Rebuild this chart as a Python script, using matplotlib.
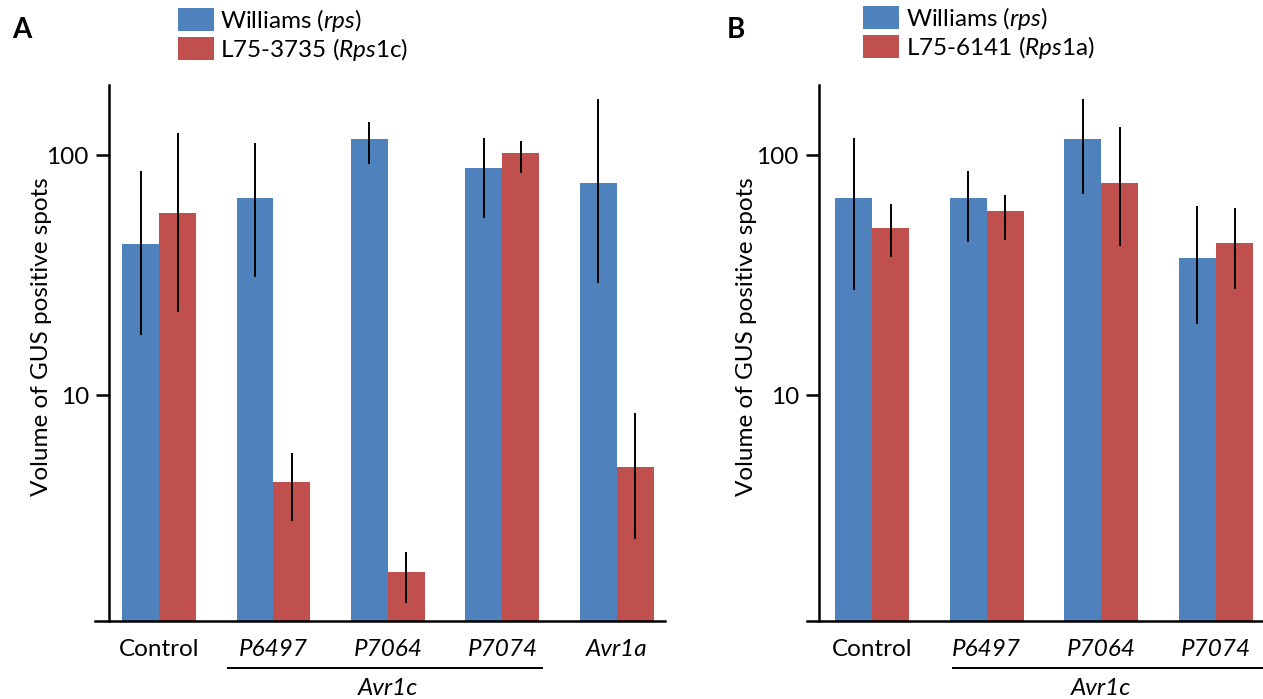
import matplotlib
matplotlib.use("Agg")
import matplotlib.pyplot as plt
import numpy as np

plt.rcParams['font.family'] = ['Lato', 'DejaVu Sans']
plt.rcParams['mathtext.fontset'] = 'custom'
plt.rcParams['mathtext.rm'] = 'Lato'
plt.rcParams['mathtext.it'] = 'Lato:italic'

# panel A data
cats_a = ['Control', 'P6497', 'P7064', 'P7074', 'Avr1a']
wil_a = [42.6, 66.2, 116.6, 88.3, 76.4]
wil_a_lo = [17.8, 31.0, 91.7, 54.6, 29.3]
wil_a_hi = [85.8, 112.2, 137.2, 117.7, 171.0]
l75_a = [57.4, 4.34, 1.83, 101.9, 5.01]
l75_a_lo = [22.2, 2.99, 1.36, 84.1, 2.51]
l75_a_hi = [123.5, 5.73, 2.22, 114.4, 8.41]

# panel B data
cats_b = ['Control', 'P6497', 'P7064', 'P7074']
wil_b = [66.2, 66.2, 116.6, 37.2]
wil_b_lo = [27.4, 43.4, 68.8, 19.8]
wil_b_hi = [117.7, 85.8, 171.0, 61.3]
l75_b = [49.6, 58.4, 76.4, 43.0]
l75_b_lo = [37.6, 44.3, 41.8, 27.6]
l75_b_hi = [62.5, 68.1, 130.8, 60.1]

blue = '#4F81BD'
red = '#C0504D'
w = 0.323
fs = 17.5


def panel(ax, cats, m1, lo1, hi1, m2, lo2, hi2, xlim, lab2, leg_xy, ext):
    x = np.arange(len(cats))
    m1, m2 = np.array(m1), np.array(m2)
    b1 = ax.bar(x - w / 2, m1, w, color=blue, log=True, label=r'Williams ($\mathit{rps}$)')
    b2 = ax.bar(x + w / 2, m2, w, color=red, log=True, label=lab2)
    ax.errorbar(x - w / 2, m1, yerr=[m1 - np.array(lo1), np.array(hi1) - m1],
                fmt='none', ecolor='black', elinewidth=1.4, capsize=0)
    ax.errorbar(x + w / 2, m2, yerr=[m2 - np.array(lo2), np.array(hi2) - m2],
                fmt='none', ecolor='black', elinewidth=1.4, capsize=0)
    ax.set_ylim(1.144, 196)
    ax.set_xlim(*xlim)
    ax.set_yticks([10, 100], ['10', '100'])
    ax.yaxis.set_minor_locator(matplotlib.ticker.NullLocator())
    ax.tick_params(axis='y', direction='out', length=9.5, width=1.8, labelsize=fs, pad=5)
    ax.set_xticks(x, cats)
    ax.tick_params(axis='x', length=0, labelsize=fs, pad=13)
    for t in ax.get_xticklabels():
        if t.get_text() != 'Control':
            t.set_fontstyle('italic')
    for s in ['top', 'right', 'bottom']:
        ax.spines[s].set_visible(False)
    ax.spines['left'].set_linewidth(1.8)
    ax.plot([-ext, 1], [0, 0], transform=ax.transAxes, color='black', lw=1.8, clip_on=False)
    ax.set_ylabel('Volume of GUS positive spots', fontsize=fs)
    ax.legend(handles=[b1, b2], loc='upper left', bbox_to_anchor=leg_xy,
              bbox_transform=ax.figure.transFigure, frameon=False, fontsize=fs,
              borderpad=0, borderaxespad=0, handlelength=1.5, handleheight=1.05,
              labelspacing=0.08, handletextpad=0.25)


fig = plt.figure(figsize=(12.63, 6.99), dpi=100)
ax_a = fig.add_axes([0.0863, 0.1116, 0.4402, 0.7668])
ax_b = fig.add_axes([0.6485, 0.1116, 0.3515, 0.7668])

panel(ax_a, cats_a, wil_a, wil_a_lo, wil_a_hi, l75_a, l75_a_lo, l75_a_hi,
      (-0.437, 4.42), r'L75-3735 ($\mathit{Rps}$1c)', (0.1409, 0.99), 0.025)
panel(ax_b, cats_b, wil_b, wil_b_lo, wil_b_hi, l75_b, l75_b_lo, l75_b_hi,
      (-0.462, 3.41), r'L75-6141 ($\mathit{Rps}$1a)', (0.6833, 0.993), 0.027)

ax_a.yaxis.set_label_coords(-0.1025, 0.53)
ax_b.yaxis.set_label_coords(-0.14, 0.53)

# Avr1c underlines
tr = ax_a.get_xaxis_transform()
ax_a.plot([0.60, 3.35], [-0.088, -0.088], transform=tr, color='black', lw=1.4, clip_on=False)
ax_a.text(2, -0.126, 'Avr1c', transform=tr, ha='center', va='center', fontsize=fs, style='italic')
tr = ax_b.get_xaxis_transform()
ax_b.plot([0.71, 3.41], [-0.088, -0.088], transform=tr, color='black', lw=1.4, clip_on=False)
ax_b.text(2, -0.126, 'Avr1c', transform=tr, ha='center', va='center', fontsize=fs, style='italic')

fig.text(0.0095, 0.957, 'A', fontsize=20, fontweight='bold', va='center')
fig.text(0.5756, 0.957, 'B', fontsize=20, fontweight='bold', va='center')

fig.savefig('out.png', dpi=100)
